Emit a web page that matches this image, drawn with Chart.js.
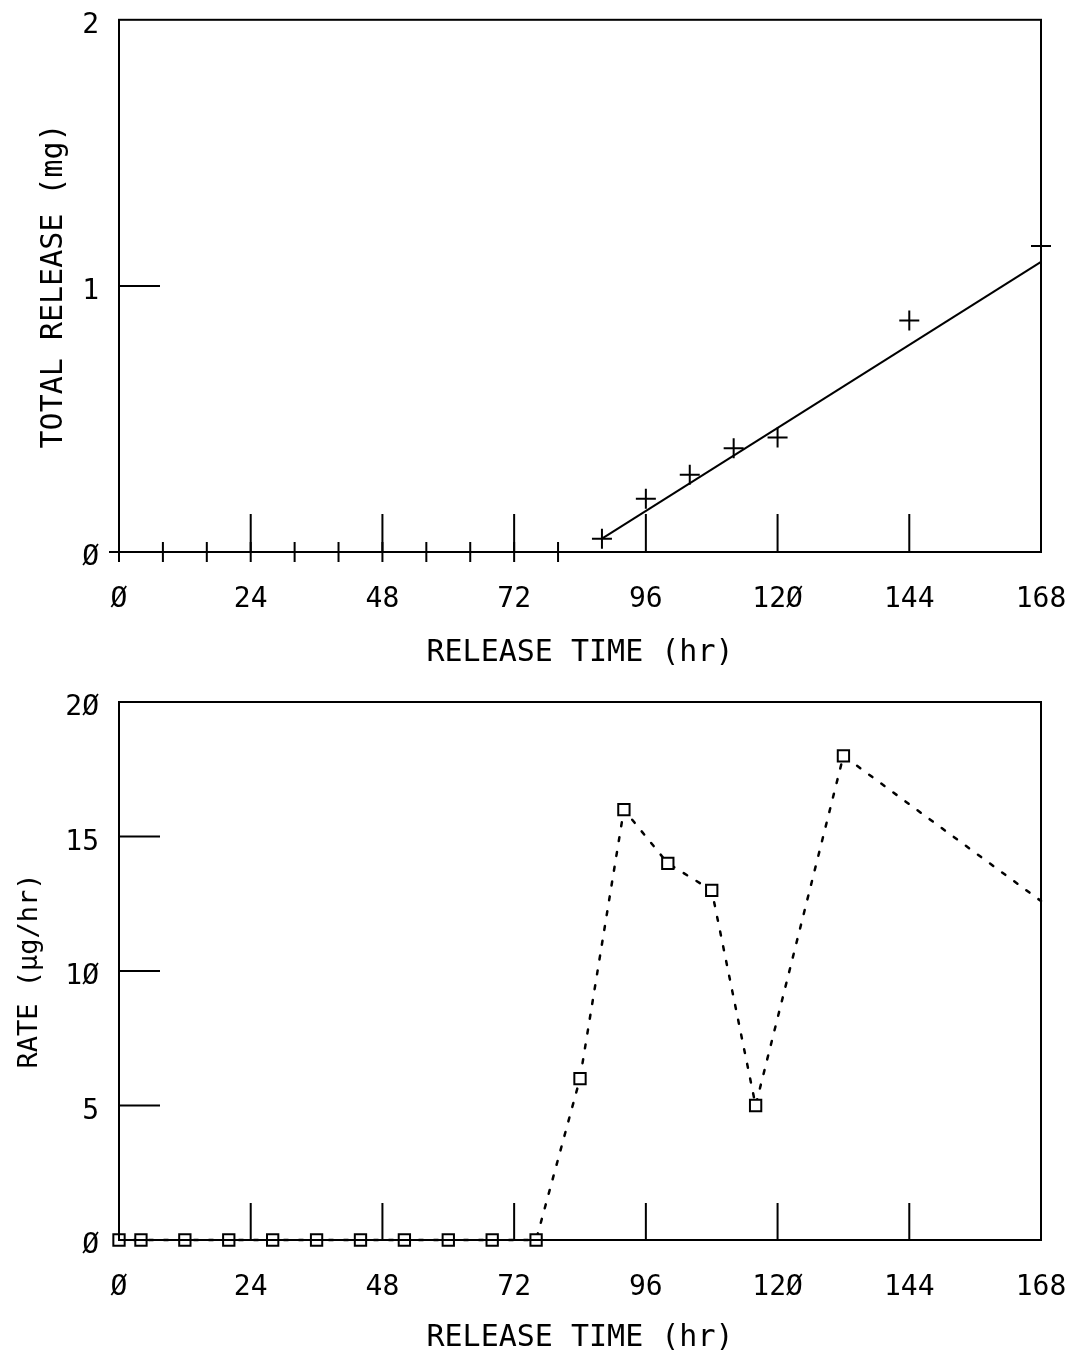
<!DOCTYPE html>
<html>
<head>
<meta charset="utf-8">
<script src="https://cdn.jsdelivr.net/npm/chart.js@4.4.1/dist/chart.umd.min.js"></script>
<style>
  html, body { margin: 0; padding: 0; background: #fff; }
  .panel { position: absolute; left: 0; width: 1072px; }
  #topPanel { top: 0; height: 680px; }
  #botPanel { top: 680px; height: 676px; }
</style>
</head>
<body>
<div class="panel" id="topPanel"><canvas id="totalChart" width="1072" height="680"></canvas></div>
<div class="panel" id="botPanel"><canvas id="rateChart" width="1072" height="676"></canvas></div>
<script>
// cumulative release (top panel)
const cumHours     = [0, 8, 16, 24, 32, 40, 48, 56, 64, 72, 80, 88, 96, 104, 112, 120, 144, 168];
const totalRelease = [0, 0, 0, 0, 0, 0, 0, 0, 0, 0, 0, 0.05, 0.20, 0.29, 0.39, 0.43, 0.87, 1.15];
const fitHours     = [88, 168];
const fitRelease   = [0.05, 1.09];

// release rate (bottom panel)
const rateHours  = [0, 4, 12, 20, 28, 36, 44, 52, 60, 68, 76, 84, 92, 100, 108, 116, 132, 168];
const rateValues = [0, 0, 0, 0, 0, 0, 0, 0, 0, 0, 0, 6, 16, 14, 13, 5, 18, 12.6];

const hourTicks  = [0, 24, 48, 72, 96, 120, 144, 168];

const FONT = "'DejaVu Sans Mono', monospace";
const INK = "#000";

// plotter style: zero drawn as a slashed zero
const plotLabel = v => String(v).replace(/0/g, "Ø");

const toXY = (xs, ys) => xs.map((x, i) => ({ x, y: ys[i] }));

// frame around the plot + short inward tick marks
const plotterAxes = {
  id: "plotterAxes",
  afterDatasetsDraw(chart, args, opts){
    const { ctx, chartArea: a, scales: { x, y } } = chart;
    ctx.save();
    ctx.strokeStyle = INK;
    ctx.lineWidth = 2;
    ctx.strokeRect(a.left, a.top, a.right - a.left, a.bottom - a.top);
    ctx.beginPath();
    opts.xTicks.forEach(v => {
      const px = x.getPixelForValue(v);
      ctx.moveTo(px, a.bottom);
      ctx.lineTo(px, a.bottom - opts.xLen);
    });
    opts.yTicks.forEach(v => {
      const py = y.getPixelForValue(v);
      ctx.moveTo(a.left, py);
      ctx.lineTo(a.left + opts.yLen, py);
    });
    ctx.stroke();
    ctx.restore();
  }
};

// hidden tick marks give the label gap without widening the layout padding
function axes(yMax, yStep, yTitle, yTitleSize, yTitlePad, xHeight, xTitlePad){
  return {
    x: {
      type: "linear", min: 0, max: 168,
      afterBuildTicks: s => { s.ticks = hourTicks.map(v => ({ value: v })); },
      afterFit: s => { s.height = xHeight; },
      grid: { display: false, drawTicks: true, tickLength: 28 },
      border: { display: true, color: INK, width: 2 },
      ticks: { color: INK, padding: 3, font: { family: FONT, size: 28 }, callback: plotLabel },
      title: { display: true, text: "RELEASE TIME (hr)", color: INK,
               font: { family: FONT, size: 30 }, padding: { top: 0, bottom: xTitlePad } }
    },
    y: {
      type: "linear", min: 0, max: yMax,
      ticks: { stepSize: yStep, color: INK, padding: 3, labelOffset: 6,
               font: { family: FONT, size: 28 }, callback: plotLabel },
      afterFit: s => { s.width = 119; },
      grid: { display: false, drawTicks: true, tickLength: 17 },
      border: { display: true, color: INK, width: 2 },
      title: { display: true, text: yTitle, color: INK,
               font: { family: FONT, size: yTitleSize }, padding: { top: yTitlePad, bottom: 0 } }
    }
  };
}

new Chart(document.getElementById("totalChart"), {
  type: "scatter",
  data: {
    datasets: [
      {
        label: "Total release",
        data: toXY(cumHours, totalRelease),
        showLine: false,
        pointStyle: "cross",
        pointRadius: 10,
        pointBorderWidth: 2,
        borderColor: INK,
        clip: false
      },
      {
        label: "Fit",
        data: toXY(fitHours, fitRelease),
        showLine: true,
        borderColor: INK,
        borderWidth: 2,
        pointRadius: 0,
        clip: false
      }
    ]
  },
  options: {
    responsive: false,
    animation: false,
    events: [],
    layout: { padding: { top: 19, right: 31, left: 0, bottom: 0 } },
    plugins: {
      legend: { display: false },
      tooltip: { enabled: false },
      plotterAxes: { xTicks: [24, 48, 72, 96, 120, 144], yTicks: [1], xLen: 38, yLen: 41 }
    },
    scales: axes(2, 1, "TOTAL RELEASE (mg)", 30, 36, 128, 9)
  },
  plugins: [plotterAxes]
});

new Chart(document.getElementById("rateChart"), {
  type: "line",
  data: {
    datasets: [
      {
        label: "Rate",
        data: toXY(rateHours, rateValues),
        borderColor: INK,
        borderWidth: 2.5,
        borderDash: [4, 11],
        borderCapStyle: "round",
        pointStyle: "rect",
        pointRadius: rateValues.map((v, i) => i === rateValues.length - 1 ? 0 : 8),
        pointBorderWidth: 2,
        pointBackgroundColor: "#fff",
        pointBorderColor: INK,
        clip: false
      }
    ]
  },
  options: {
    responsive: false,
    animation: false,
    events: [],
    layout: { padding: { top: 22, right: 31, left: 0, bottom: 0 } },
    plugins: {
      legend: { display: false },
      tooltip: { enabled: false },
      plotterAxes: { xTicks: [24, 48, 72, 96, 120, 144], yTicks: [5, 10, 15], xLen: 37, yLen: 41 }
    },
    scales: axes(20, 5, "RATE (µg/hr)", 27, 14, 116, 0)
  },
  plugins: [plotterAxes]
});
</script>
</body>
</html>
